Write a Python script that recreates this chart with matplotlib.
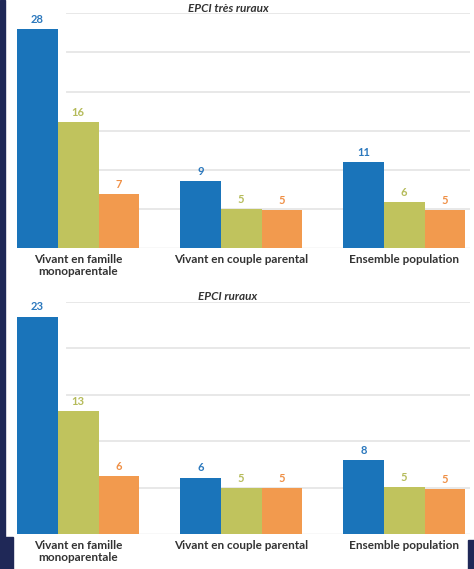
import matplotlib
matplotlib.use("Agg")
import matplotlib.pyplot as plt
from matplotlib.patches import Rectangle
import numpy as np

plt.rcParams['font.family'] = ['Lato', 'DejaVu Sans']

categories = ["Vivant en famille\nmonoparentale", "Vivant en couple parental", "Ensemble population"]
panel_titles = ["EPCI très ruraux", "EPCI ruraux"]

# bar heights (as drawn) and displayed labels
tres_ruraux_s1 = [28.0, 8.6, 11.0]
tres_ruraux_s2 = [16.1, 5.0, 5.9]
tres_ruraux_s3 = [6.9, 4.9, 4.9]
tres_ruraux_lab1 = ["28", "9", "11"]
tres_ruraux_lab2 = ["16", "5", "6"]
tres_ruraux_lab3 = ["7", "5", "5"]

ruraux_s1 = [23.4, 6.1, 8.0]
ruraux_s2 = [13.2, 5.0, 5.1]
ruraux_s3 = [6.3, 5.0, 4.9]
ruraux_lab1 = ["23", "6", "8"]
ruraux_lab2 = ["13", "5", "5"]
ruraux_lab3 = ["6", "5", "5"]

colors = ["#1a74ba", "#c0c35d", "#f29a4e"]
label_colors = ["#2b78bd", "#b5bb5a", "#ef8f45"]
navy = "#1f2857"

W, H = 474, 569
fig = plt.figure(figsize=(W / 100, H / 100), dpi=100)
fig.patch.set_facecolor("white")

def fx(px):
    return px / W

def fy(py):
    return 1 - py / H

panels = [
    dict(title=panel_titles[0], data=[tres_ruraux_s1, tres_ruraux_s2, tres_ruraux_s3],
         labels=[tres_ruraux_lab1, tres_ruraux_lab2, tres_ruraux_lab3],
         base=248.3, top=13.3, ymax=30, title_y=8),
    dict(title=panel_titles[1], data=[ruraux_s1, ruraux_s2, ruraux_s3],
         labels=[ruraux_lab1, ruraux_lab2, ruraux_lab3],
         base=534.3, top=301.7, ymax=25, title_y=296),
]

left_px, right_px = 17, 470
x = np.arange(len(categories))
w = 0.25

for p in panels:
    ax = fig.add_axes([fx(left_px), fy(p["base"]), fx(right_px - left_px), (p["base"] - p["top"]) / H])
    ax.set_xlim(-0.375, -0.375 + (right_px - left_px) / 163.0)
    ax.set_ylim(0, p["ymax"])
    for s in ax.spines.values():
        s.set_visible(False)
    ax.set_yticks([])
    for gv in np.arange(5, p["ymax"] + 0.1, 5):
        ax.axhline(gv, xmin=0.11, xmax=1.0, color="#e8e8e8", lw=1.4, zorder=0)
    ax.axhline(0, color="#e0e0e0", lw=1.0, zorder=0)
    for i in range(3):
        bars = ax.bar(x + (i - 1) * w, p["data"][i], width=w, color=colors[i], zorder=2)
        ax.bar_label(bars, labels=p["labels"][i], padding=3, color=label_colors[i],
                     fontsize=8, fontweight="bold")
    ax.set_xticks(x)
    ax.set_xticklabels(categories, fontsize=8.5, fontweight="bold", color="#333333",
                       linespacing=1.15)
    ax.tick_params(axis="x", length=0, pad=4)
    fig.text(fx(228), fy(p["title_y"]), p["title"], ha="center", va="center",
             fontsize=8.5, fontweight="bold", fontstyle="italic", color="#333333")

# navy frame pieces
fig.patches.append(Rectangle((0, fy(537)), fx(5), 1 - fy(537), transform=fig.transFigure,
                             color=navy, zorder=10))
fig.patches.append(Rectangle((0, 0), fx(13), fy(537), transform=fig.transFigure,
                             color=navy, zorder=10))
fig.patches.append(Rectangle((fx(468), 0), fx(6), fy(540), transform=fig.transFigure,
                             color=navy, zorder=10))

fig.savefig("out.png", dpi=100)
